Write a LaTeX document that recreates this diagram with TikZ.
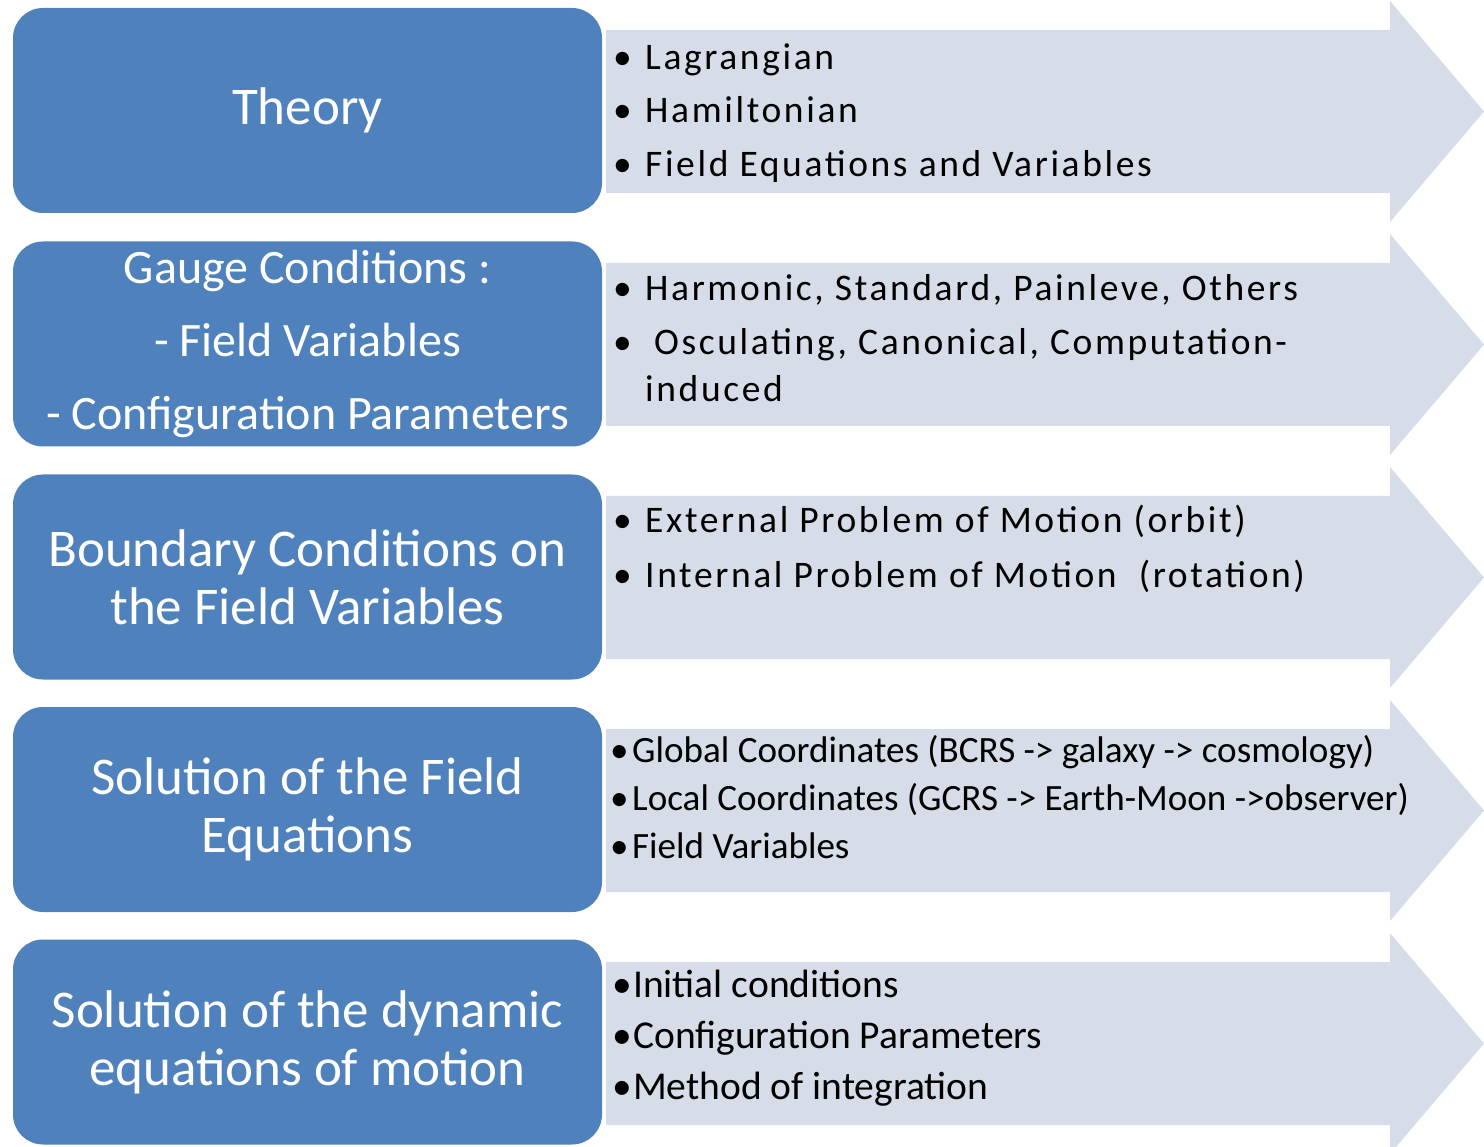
\documentclass[tikz,border=0pt]{standalone}
\usepackage{fontspec}
\setmainfont{Carlito}
\newfontfamily\rtfont[LetterSpace=7]{Carlito}
\definecolor{boxblue}{HTML}{4F81BD}
\definecolor{arrowfill}{HTML}{D6DCE8}
\newcommand\bl[2]{\makebox[#1][l]{•}#2}
\newcommand\myarrow[1]{\fill[arrowfill] (606,{30+#1}) -- (1390,{30+#1}) -- (1390,{1+#1}) -- (1484,{111.5+#1}) -- (1390,{222+#1}) -- (1390,{193+#1}) -- (606,{193+#1}) -- cycle;}
\tikzset{
  bluebox/.style={fill=boxblue, rounded corners=30pt, minimum width=589pt, minimum height=205pt, inner sep=0pt, text=white, align=center, font=\fontsize{53}{58}\selectfont},
  rtA/.style={anchor=base west, inner sep=0pt, font=\rtfont\fontsize{37.5}{44}\selectfont},
  rtB/.style={anchor=base west, inner sep=0pt, font=\fontsize{37.1}{44}\selectfont},
  rtC/.style={anchor=base west, inner sep=0pt, font=\fontsize{39.5}{44}\selectfont}
}
\begin{document}
\begin{tikzpicture}[x=1pt,y=-1pt]
\useasboundingbox (0,0) rectangle (1484,1147);
\clip (0,0) rectangle (1484,1147);
\myarrow{0}
\myarrow{233}
\myarrow{466}
\myarrow{699}
\myarrow{932}
\node[bluebox] (b1) at (307.5,110.5) {Theory};
\node[bluebox, font=\fontsize{48}{73}\selectfont] (b2) at (307.5,344) {Gauge Conditions :\\- Field Variables\\- Configuration Parameters};
\node[bluebox] (b3) at (307.5,577) {Boundary Conditions on\\the Field Variables};
\node[bluebox] (b4) at (307.5,809.5) {Solution of the Field\\Equations};
\node[bluebox] (b5) at (307.5,1042) {Solution of the dynamic\\equations of motion};
% row 1
\node[rtA] (r1a) at (613,70) {\bl{32pt}{Lagrangian}};
\node[rtA] (r1b) at (613,123) {\bl{32pt}{Hamiltonian}};
\node[rtA] (r1c) at (613,177) {\bl{32pt}{Field Equations and Variables}};
% row 2
\node[rtA] (r2a) at (613,301) {\bl{32pt}{Harmonic, Standard, Painleve, Others}};
\node[rtA] (r2b) at (613,355) {\bl{32pt}{\hspace{9pt}Osculating, Canonical, Computation-}};
\node[rtA] (r2c) at (645,402) {induced};
% row 3
\node[rtA] (r3a) at (613,532) {\bl{32pt}{External Problem of Motion (orbit)}};
\node[rtA] (r3b) at (613,587) {\bl{32pt}{Internal Problem of Motion \ (rotation)}};
% row 4
\node[rtB] (r4a) at (610,762) {\bl{22pt}{Global Coordinates (BCRS -> galaxy -> cosmology)}};
\node[rtB] (r4b) at (610,810) {\bl{22pt}{Local Coordinates (GCRS -> Earth-Moon ->observer)}};
\node[rtB] (r4c) at (610,858) {\bl{22pt}{Field Variables}};
% row 5
\node[rtC] (r5a) at (612,997) {\bl{21pt}{Initial conditions}};
\node[rtC] (r5b) at (612,1048) {\bl{21pt}{Configuration Parameters}};
\node[rtC] (r5c) at (612,1099) {\bl{21pt}{Method of integration}};
\end{tikzpicture}
\end{document}
